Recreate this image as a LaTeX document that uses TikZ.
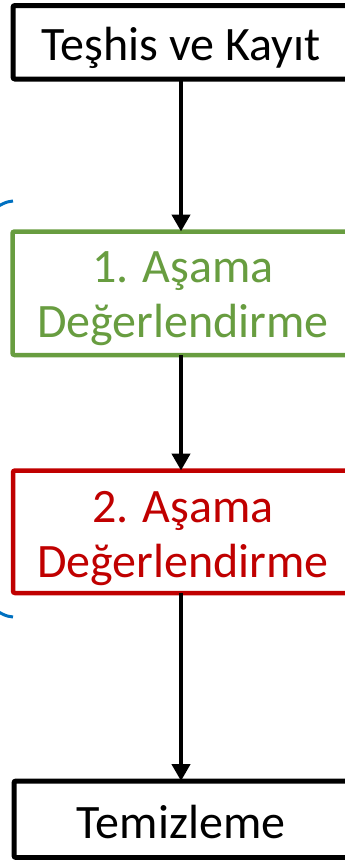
\documentclass[tikz,border=0pt]{standalone}
\usepackage{fontspec}
\setmainfont{Carlito}
\usetikzlibrary{arrows.meta}
\definecolor{stgreen}{RGB}{104,157,64}
\definecolor{stred}{RGB}{192,0,0}
\definecolor{stblue}{RGB}{0,112,192}
\tikzset{
  flowbox/.style={draw, line width=5pt, rounded corners=2pt, inner sep=0pt, outer sep=0pt, fill=white},
  boxtext/.style={inner sep=0pt, align=center, font=\fontsize{48}{55}\selectfont},
  flowarrow/.style={line width=4.5pt, -{Triangle[length=17pt,width=18pt]}},
  bracketline/.style={draw=stblue, line width=3pt}
}
\begin{document}
\begin{tikzpicture}[x=1pt,y=-1pt]
\useasboundingbox (0,0) rectangle (345,860);
\clip (0,0) rectangle (345,860);
\node[flowbox, minimum width=336pt, minimum height=73.5pt] (kayit) at (181,42.25) {};
\node[boxtext] (kayitt) at (181,48) {Teşhis ve Kayıt};
\node[flowbox, draw=stgreen, line width=4.5pt, minimum width=337pt, minimum height=123.5pt] (asama1) at (181,293.25) {};
\node[boxtext, text=stgreen] (asama1t) at (183,299) {1. Aşama\\Değerlendirme};
\node[flowbox, draw=stred, line width=4.5pt, minimum width=336pt, minimum height=122.5pt] (asama2) at (181,531.75) {};
\node[boxtext, text=stred] (asama2t) at (183,539) {2. Aşama\\Değerlendirme};
\node[flowbox, minimum width=334pt, minimum height=76.5pt] (temiz) at (181,819.25) {};
\node[boxtext] (temizt) at (181,822) {Temizleme};
\draw[flowarrow] (kayit.south) -- (asama1.north);
\draw[flowarrow] (asama1.south) -- (asama2.north);
\draw[flowarrow] (asama2.south) -- (temiz.north);
\coordinate (bt) at (13,201);
\coordinate (bb) at (13,617);
\draw[bracketline] (bt) .. controls (6,201.5) and (0,204.5) .. (-10,212);
\draw[bracketline] (bb) .. controls (6,616.5) and (0,613.5) .. (-10,606);
\end{tikzpicture}
\end{document}
